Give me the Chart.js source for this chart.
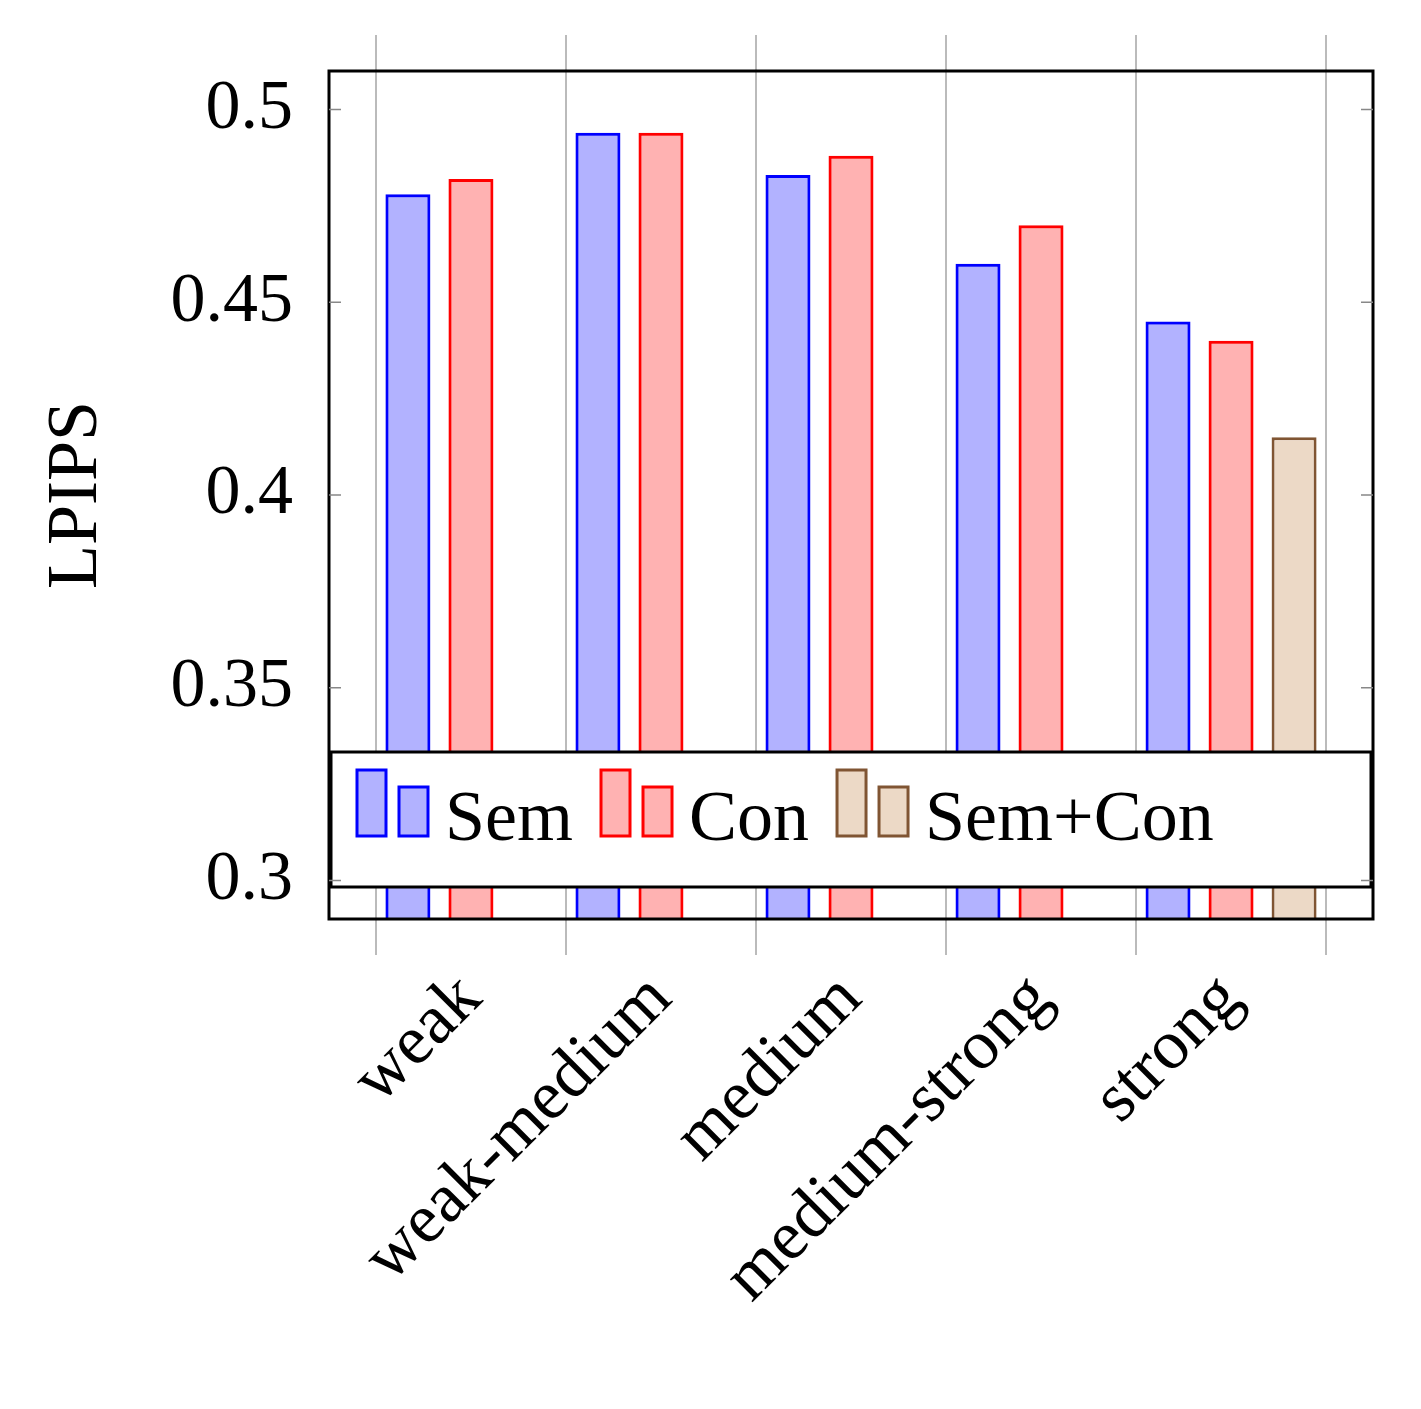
<!DOCTYPE html>
<html><head><script src="https://cdn.jsdelivr.net/npm/chart.js@4"></script>
<style>body{margin:0;background:#fff}</style></head><body>
<canvas id="c" width="1421" height="1409"></canvas>
<script>
const categories=["weak","weak-medium","medium","medium-strong","strong"];
const semValues=[0.478,0.494,0.483,0.460,0.445];
const conValues=[0.482,0.494,0.488,0.470,0.440];
const semConValues=[null,null,null,null,0.415];
const yTicks=[0.3,0.35,0.4,0.45,0.5];
const seriesNames=["Sem","Con","Sem+Con"];
const FONT="'Liberation Serif', serif";
const fills=["rgba(0,0,255,0.3)","rgba(255,0,0,0.3)","rgb(236,217,198)"];
const borders=["rgb(0,0,255)","rgb(255,0,0)","rgb(128,85,51)"];
const pos=categories.map((c,i)=>i+1);
const mk=(vals)=>vals.map((v,i)=>({x:pos[i],y:v}));
const gridTicks=()=>pos.map(p=>({value:p-0.5})).concat([{value:pos.length+0.5}]);
const legendPlugin={id:'lg',afterDatasetsDraw(ch){
 const ctx=ch.ctx,a=ch.chartArea;
 const x0=a.left+2,y0=a.top+681,w=a.right-a.left-4,h=135;
 ctx.save();ctx.fillStyle='#fff';ctx.fillRect(x0,y0,w,h);
 ctx.lineWidth=3;ctx.strokeStyle='#000';ctx.strokeRect(x0,y0,w,h);
 ctx.font="72px "+FONT;ctx.textBaseline='middle';ctx.fillStyle='#000';
 let x=x0+26;const cy=y0+h/2;
 seriesNames.forEach((n,i)=>{
  ctx.fillStyle=fills[i];ctx.strokeStyle=borders[i];ctx.lineWidth=3;
  ctx.fillRect(x,y0+18,29,66);ctx.strokeRect(x,y0+18,29,66);
  ctx.fillRect(x+42,y0+35,29,49);ctx.strokeRect(x+42,y0+35,29,49);
  ctx.fillStyle='#000';ctx.fillText(n,x+88,cy+2);
  x+=88+ctx.measureText(n).width+28;
 });
 ctx.restore();
},afterDraw(ch){const a=ch.chartArea,ctx=ch.ctx;ctx.save();ctx.lineWidth=3;ctx.strokeStyle='#000';
 ctx.strokeRect(a.left,a.top,a.right-a.left,a.bottom-a.top);
 ctx.lineWidth=1.5;ctx.strokeStyle='#888';
 yTicks.forEach(v=>{const y=ch.scales.y.getPixelForValue(v);ctx.beginPath();ctx.moveTo(a.left,y);ctx.lineTo(a.left+12,y);ctx.moveTo(a.right,y);ctx.lineTo(a.right-12,y);ctx.stroke();});
 ctx.restore();}};
new Chart(document.getElementById('c'),{type:'bar',
 data:{datasets:[
  {label:seriesNames[0],data:mk(semValues),backgroundColor:fills[0],borderColor:borders[0],borderWidth:3},
  {label:seriesNames[1],data:mk(conValues),backgroundColor:fills[1],borderColor:borders[1],borderWidth:3},
  {label:seriesNames[2],data:mk(semConValues),backgroundColor:fills[2],borderColor:borders[2],borderWidth:3}]},
 options:{responsive:false,animation:false,devicePixelRatio:1,
  categoryPercentage:0.995,barPercentage:0.714,
  layout:{padding:{left:30,right:48,top:0,bottom:0}},
  plugins:{legend:{display:false},tooltip:{enabled:false}},
  scales:{
   x:{type:'linear',position:'bottom',min:0.253,max:5.747,offset:false,
    afterBuildTicks:s=>{s.ticks=gridTicks();},
    afterFit:s=>{s.height=490;},
    border:{display:false},
    grid:{color:'#bbb',lineWidth:2,tickLength:36,offset:false},
    ticks:{autoSkip:false,maxRotation:45,minRotation:45,labelOffset:95,font:{family:FONT,size:70},color:'#000',
     callback:(v,i)=>categories[i]??''}},
   xt:{type:'linear',position:'top',min:0.253,max:5.747,offset:false,
    afterBuildTicks:s=>{s.ticks=gridTicks();},
    afterFit:s=>{s.height=71;},
    border:{display:false},
    grid:{color:'#bbb',lineWidth:2,tickLength:36,drawOnChartArea:false,offset:false},
    ticks:{display:false}},
   y:{min:0.29,max:0.51,
    afterBuildTicks:s=>{s.ticks=yTicks.map(v=>({value:v}));},
    afterFit:s=>{s.width=299;},
    border:{display:false},grid:{display:false},
    ticks:{font:{family:FONT,size:70},color:'#000',padding:28,callback:v=>String(+v.toFixed(2))},
    title:{display:true,text:'LPIPS',font:{family:FONT,size:72},color:'#000'}}}},
 plugins:[legendPlugin]});
</script></body></html>
